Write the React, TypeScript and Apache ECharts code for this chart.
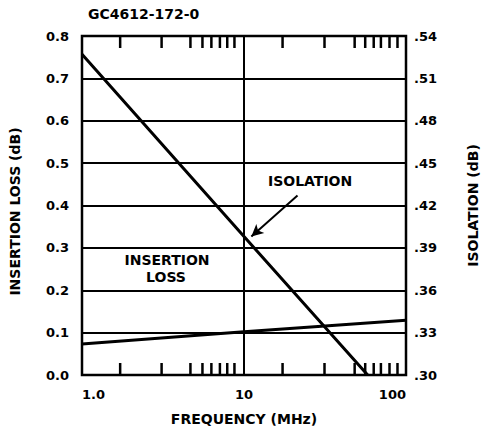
import React, { useEffect, useRef } from 'react';
import * as echarts from 'echarts';

const chartTitle = 'GC4612-172-0';
const xAxisName = 'FREQUENCY (MHz)';
const leftAxisName = 'INSERTION LOSS (dB)';
const rightAxisName = 'ISOLATION (dB)';
const isolationNote = 'ISOLATION';
const insertionNote = ['INSERTION', 'LOSS'];

// Insertion loss (left axis, dB) vs frequency (MHz)
const insertionFreq = [1, 10, 100];
const insertionDb = [0.073, 0.102, 0.129];

// Isolation (right axis, dB) vs frequency (MHz)
const isolationFreq = [1, 10, 58];
const isolationDb = [0.527, 0.398, 0.3];

// Minor tick marks on the frequency axis as drawn in the original
const minorTickFreqs = [1.72, 3.1, 4.67, 5.54, 6.29, 7.1, 7.88, 8.73, 17.3, 31.4, 48.2, 56, 63.2, 70, 79.1, 88.6];

// Arrow pointing to the isolation curve (freq, isolation dB)
const arrowTail = [21.4, 0.427];
const arrowHead = [11.1, 0.398];

const FONT = 'DejaVu Sans';

export default function App() {
  const ref = useRef<HTMLDivElement>(null);
  useEffect(() => {
    if (!ref.current) return;
    const chart = echarts.init(ref.current, undefined, { renderer: 'svg' });
    const txt = { fontFamily: FONT, fontWeight: 'bold' as const, color: '#000' };
    const font14 = `bold 14px "${FONT}"`;
    chart.setOption({
      animation: false,
      backgroundColor: '#fff',
      grid: {
        left: 75,
        right: 72,
        top: 36,
        bottom: 53,
        show: true,
        borderColor: '#000',
        borderWidth: 2.5,
        backgroundColor: 'transparent',
      },
      xAxis: {
        type: 'log',
        logBase: 10,
        min: 1,
        max: 100,
        name: xAxisName,
        nameLocation: 'middle',
        nameGap: 37,
        nameTextStyle: { ...txt, fontSize: 14 },
        axisLine: { show: false },
        axisTick: { show: false },
        axisLabel: {
          ...txt,
          fontSize: 13,
          margin: 13,
          alignMinLabel: 'left',
          alignMaxLabel: 'right',
          formatter: (v: number) => (Math.abs(v - 1) < 1e-9 ? '1.0' : String(Math.round(v))),
        },
        splitLine: { show: true, lineStyle: { color: '#000', width: 2 } },
      },
      yAxis: [
        {
          type: 'value',
          min: 0,
          max: 0.8,
          interval: 0.1,
          name: leftAxisName,
          nameLocation: 'middle',
          nameRotate: 90,
          nameGap: 60,
          nameTextStyle: { ...txt, fontSize: 14, padding: [0, 12, 0, 0] },
          axisLine: { show: false },
          axisTick: { show: false },
          axisLabel: { ...txt, fontSize: 13, margin: 13, formatter: (v: number) => v.toFixed(1) },
          splitLine: { show: true, lineStyle: { color: '#000', width: 2 } },
        },
        {
          type: 'value',
          position: 'right',
          min: 0.3,
          max: 0.54,
          interval: 0.03,
          name: rightAxisName,
          nameLocation: 'middle',
          nameRotate: 90,
          nameGap: 60,
          nameTextStyle: { ...txt, fontSize: 14 },
          axisLine: { show: false },
          axisTick: { show: false },
          axisLabel: {
            ...txt,
            fontSize: 13,
            margin: 8,
            formatter: (v: number) => '.' + String(Math.round(v * 100)),
          },
          splitLine: { show: false },
        },
      ],
      graphic: [
        {
          type: 'text',
          left: 88,
          top: 7,
          style: { text: chartTitle, font: font14, fill: '#000' },
        },
        {
          type: 'text',
          x: 268,
          y: 181,
          style: { text: isolationNote, font: font14, fill: '#000', verticalAlign: 'middle', align: 'left' },
        },
        {
          type: 'text',
          x: 167,
          y: 260,
          style: {
            text: insertionNote[0],
            font: font14,
            fill: '#000',
            align: 'center',
            verticalAlign: 'middle',
          },
        },
        {
          type: 'text',
          x: 166,
          y: 277,
          style: {
            text: insertionNote[1],
            font: font14,
            fill: '#000',
            align: 'center',
            verticalAlign: 'middle',
          },
        },
      ],
      series: [
        {
          type: 'custom',
          name: 'ticks',
          xAxisIndex: 0,
          yAxisIndex: 0,
          silent: true,
          data: minorTickFreqs.map((f) => [f, 0]),
          renderItem: (params: any, api: any) => {
            const x = api.coord([api.value(0), 0])[0];
            const cs = params.coordSys;
            const bottom = cs.y + cs.height;
            const style = { stroke: '#000', lineWidth: 2.5 };
            return {
              type: 'group',
              children: [
                { type: 'line', shape: { x1: x, y1: bottom, x2: x, y2: bottom - 12 }, style },
                { type: 'line', shape: { x1: x, y1: cs.y, x2: x, y2: cs.y + 12 }, style },
              ],
            };
          },
        },
        {
          type: 'line',
          name: 'Insertion Loss',
          yAxisIndex: 0,
          data: insertionFreq.map((f, i) => [f, insertionDb[i]]),
          showSymbol: false,
          lineStyle: { color: '#000', width: 3 },
        },
        {
          type: 'line',
          name: 'Isolation',
          yAxisIndex: 1,
          data: isolationFreq.map((f, i) => [f, isolationDb[i]]),
          showSymbol: false,
          lineStyle: { color: '#000', width: 3 },
          markLine: {
            silent: true,
            symbol: ['none', 'arrow'],
            symbolSize: [9, 12],
            label: { show: false },
            lineStyle: { color: '#000', width: 2, type: 'solid' },
            data: [[{ coord: arrowTail }, { coord: arrowHead }]],
          },
        },
      ],
    });
    return () => chart.dispose();
  }, []);
  return <div ref={ref} style={{ position: 'fixed', left: 0, top: 0, width: 488, height: 431, background: '#fff' }} />;
}
